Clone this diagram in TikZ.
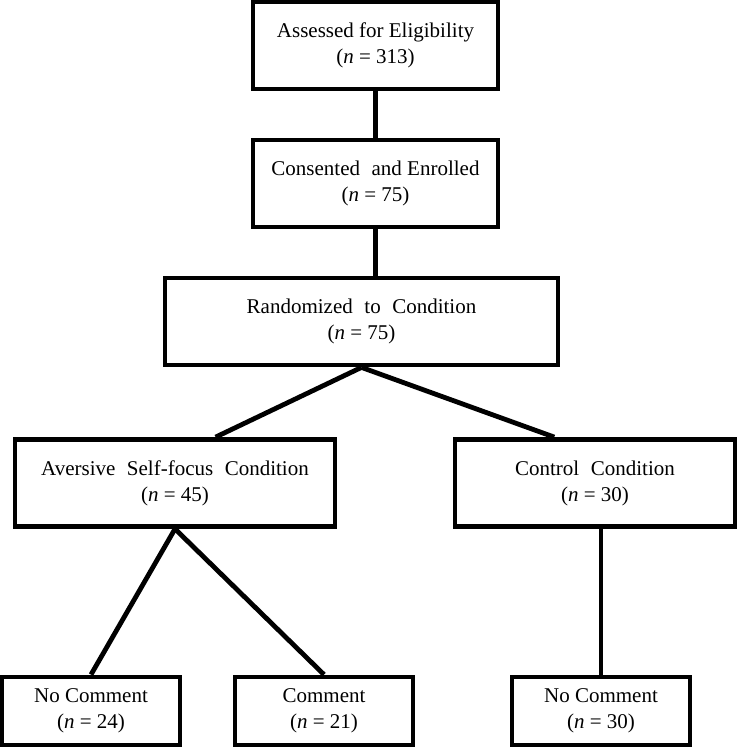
\documentclass[tikz,border=0pt]{standalone}
\usepackage{fontspec}
\setmainfont{Liberation Serif}
\usetikzlibrary{calc}
\newcommand{\wgap}{\hspace{0.55em}}

\begin{document}
\begin{tikzpicture}[x=0.5pt, y=-0.5pt,
  box/.style={draw, line width=2.4pt, align=center, inner sep=0pt,
    minimum height=43.5pt, font=\fontsize{10.5}{13}\selectfont},
  leaf/.style={box, minimum width=89pt, minimum height=34pt},
  link/.style={line width=2.4pt}]
  \useasboundingbox (0,0) rectangle (750,749);

  % Boxes
  \node[box, minimum width=122.5pt] (elig) at (375.5, 45.5) {Assessed for Eligibility\\(\textit{n} = 313)};
  \node[box, minimum width=122.5pt] (enrol) at (375.5, 183.5) {Consented\wgap and Enrolled\\(\textit{n} = 75)};
  \node[box, minimum width=196.5pt] (rand) at (361.5, 321.5) {Randomized\wgap to\wgap Condition\\(\textit{n} = 75)};
  \node[box, minimum width=160pt] (avers) at (175, 483) {Aversive\wgap Self-focus\wgap Condition\\(\textit{n} = 45)};
  \node[box, minimum width=140pt] (ctrl) at (595, 483) {Control\wgap Condition\\(\textit{n} = 30)};
  \node[leaf] (nocomA) at (91, 711) {No Comment\\(\textit{n} = 24)};
  \node[leaf] (comA) at (324, 711) {Comment\\(\textit{n} = 21)};
  \node[leaf] (nocomC) at (601, 711) {No Comment\\(\textit{n} = 30)};

  % Links
  \draw[link] (elig.south) -- (enrol.north);
  \draw[link] (enrol.south) -- (enrol.south |- rand.north);
  \draw[link] (rand.south) -- ($(avers.north west)!0.625!(avers.north east)$);
  \draw[link] (rand.south) -- ($(ctrl.north west)!0.357!(ctrl.north east)$);
  \draw[link] (avers.south) -- (nocomA.north);
  \draw[link] (avers.south) -- (comA.north);
  \draw[link] (nocomC.north |- ctrl.south) -- (nocomC.north);
\end{tikzpicture}
\end{document}
